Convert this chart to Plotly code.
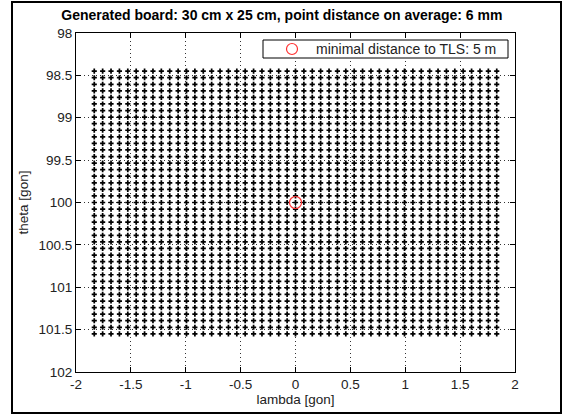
import numpy as np
import plotly.graph_objects as go

# Data: board point grid (angles in gon)
lambda_step = 0.0764          # gon between columns (6 mm at 5 m)
theta_step = 0.0775           # gon between rows
col_index = list(range(-24, 25))
row_index = list(range(-20, 21))
theta_center = 100.0
tls_point_lambda = [0.0]
tls_point_theta = [100.0]
legend_label = "minimal distance to TLS: 5 m"
x_ticks = [-2, -1.5, -1, -0.5, 0, 0.5, 1, 1.5, 2]
y_ticks = [98, 98.5, 99, 99.5, 100, 100.5, 101, 101.5, 102]

lam = np.array(col_index) * lambda_step
the = theta_center + np.array(row_index) * theta_step
LL, TT = np.meshgrid(lam, the)

FONT = "Liberation Sans, Arial"
RED = "#ff3030"

fig = go.Figure()
fig.add_trace(go.Scatter(
    x=LL.ravel(), y=TT.ravel(), mode="markers",
    marker=dict(symbol="cross", size=4.3, color="black", line=dict(width=0)),
    showlegend=False, hoverinfo="skip"))
fig.add_trace(go.Scatter(
    x=tls_point_lambda, y=tls_point_theta, mode="markers",
    name=legend_label, showlegend=False,
    marker=dict(symbol="circle-open", size=12, color=RED, line=dict(width=1.2))))

L, R, T, B = 76, 51, 33, 45
W, H = 566, 417
pw, ph = W - L - R, H - T - B

def px2x(px):
    return (px - L) / pw

def py2y(py):
    return (H - B - py) / ph

# outer figure frame
fig.add_shape(type="rect", xref="paper", yref="paper",
              x0=px2x(12), x1=px2x(561), y0=py2y(413), y1=py2y(2),
              line=dict(color="black", width=2), layer="below")

# compact MATLAB-style legend: box, symbol and label
fig.add_shape(type="rect", xref="paper", yref="paper",
              x0=px2x(263), x1=px2x(508), y0=py2y(58), y1=py2y(40),
              line=dict(color="black", width=1), fillcolor="white", layer="above")
fig.add_shape(type="circle", xref="paper", yref="paper",
              x0=px2x(286.5), x1=px2x(297.5), y0=py2y(54.5), y1=py2y(43.5),
              line=dict(color=RED, width=1.2), layer="above")
fig.add_annotation(xref="paper", yref="paper", x=px2x(314), y=py2y(49),
                   xanchor="left", yanchor="middle", showarrow=False,
                   text=legend_label,
                   font=dict(family=FONT, size=14, color="#222"))

axis_common = dict(
    showline=True, linecolor="black", linewidth=1, mirror="ticks",
    ticks="inside", ticklen=5, tickcolor="black",
    showgrid=True, gridcolor="#333", griddash="1px,3px", gridwidth=1,
    zeroline=False, automargin=False,
    tickfont=dict(family=FONT, size=13.5, color="#222"),
)
fig.update_xaxes(range=[-2, 2], tickvals=x_ticks,
                 ticktext=[f"{v:g}" for v in x_ticks],
                 title=dict(text="lambda [gon]", standoff=2,
                            font=dict(family=FONT, size=13.5, color="#222")),
                 **axis_common)
fig.update_yaxes(range=[102, 98], tickvals=y_ticks,
                 ticktext=[f"{v:g}" for v in y_ticks],
                 title=dict(text="theta [gon]", standoff=6,
                            font=dict(family=FONT, size=13.5, color="#222")),
                 **axis_common)

fig.update_layout(
    width=W, height=H,
    margin=dict(l=L, r=R, t=T, b=B),
    paper_bgcolor="white", plot_bgcolor="white",
    title=dict(text="<b>Generated board: 30 cm x 25 cm, point distance on average: 6 mm</b>",
               xref="container", x=0.498, xanchor="center",
               yref="container", y=1 - 15 / H, yanchor="middle",
               font=dict(family=FONT, size=14, color="black")),
    showlegend=False,
)

fig.write_html("out.html", config={"displayModeBar": False},
               post_script="document.body.style.margin='0px';document.body.style.padding='0px';")
